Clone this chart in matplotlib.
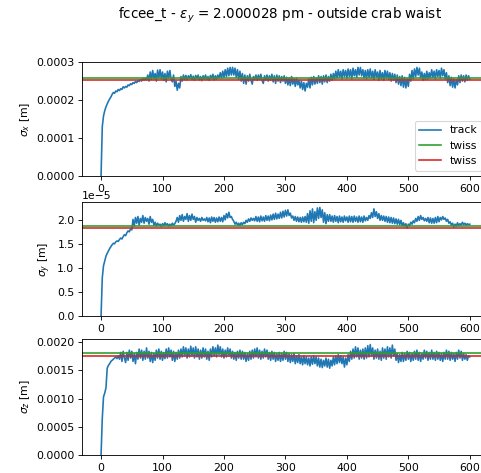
import numpy as np
import matplotlib
matplotlib.use("Agg")
import matplotlib.pyplot as plt

# Turn number of each stored sample
turns = np.arange(0, 601, 2)

# Tracked beam sizes (sigma_x in 1e-4 m, sigma_y in 1e-5 m, sigma_z in 1e-3 m)
sigma_x_track = np.array([
    0.00, 1.30, 1.58, 1.72, 1.82, 1.90, 1.97, 2.03, 2.08, 2.15,
    2.20, 2.18, 2.24, 2.22, 2.28, 2.25, 2.30, 2.28, 2.35, 2.32,
    2.36, 2.34, 2.40, 2.38, 2.43, 2.41, 2.46, 2.44, 2.49, 2.46,
    2.51, 2.49, 2.54, 2.50, 2.57, 2.52, 2.58, 2.53,
    2.66, 2.50, 2.74, 2.54, 2.78, 2.56, 2.70, 2.50, 2.79, 2.58,
    2.80, 2.56, 2.74, 2.52, 2.70, 2.48, 2.76, 2.58, 2.78, 2.54,
    2.48, 2.66, 2.36, 2.50, 2.26, 2.44, 2.32, 2.62, 2.50, 2.66,
    2.54, 2.65, 2.53, 2.64, 2.56, 2.67, 2.54, 2.63, 2.52, 2.65,
    2.56, 2.66, 2.53, 2.62, 2.51, 2.64, 2.55, 2.66, 2.54, 2.62,
    2.52, 2.65, 2.56, 2.68, 2.53, 2.64, 2.55, 2.66, 2.58, 2.72,
    2.58, 2.76, 2.60, 2.80, 2.62, 2.84, 2.64, 2.86, 2.66, 2.86,
    2.66, 2.84, 2.60, 2.80, 2.55, 2.76, 2.50, 2.70, 2.44, 2.66,
    2.42, 2.64, 2.50, 2.68, 2.52, 2.42, 2.62, 2.54, 2.66, 2.52,
    2.66, 2.54, 2.68, 2.52, 2.44, 2.64, 2.52, 2.66, 2.50, 2.64,
    2.52, 2.68, 2.48, 2.64, 2.44, 2.66, 2.50, 2.64, 2.46, 2.62,
    2.50, 2.64, 2.44, 2.60, 2.40, 2.58, 2.38, 2.62, 2.42, 2.56,
    2.36, 2.58, 2.40, 2.52, 2.32, 2.50, 2.28, 2.46, 2.24, 2.44,
    2.34, 2.56, 2.32, 2.60, 2.40, 2.62, 2.42, 2.58, 2.44, 2.64,
    2.46, 2.62, 2.42, 2.64, 2.48, 2.66, 2.46, 2.62, 2.50, 2.68,
    2.52, 2.70, 2.56, 2.76, 2.58, 2.80, 2.60, 2.76, 2.56, 2.80,
    2.62, 2.78, 2.58, 2.82, 2.62, 2.80, 2.56, 2.84, 2.64, 2.80,
    2.60, 2.86, 2.66, 2.86, 2.64, 2.80, 2.58, 2.78, 2.56, 2.80,
    2.60, 2.82, 2.58, 2.76, 2.54, 2.80, 2.60, 2.74, 2.52, 2.78,
    2.56, 2.72, 2.52, 2.78, 2.58, 2.76, 2.54, 2.72, 2.50, 2.70,
    2.52, 2.68, 2.46, 2.66, 2.42, 2.62, 2.38, 2.64, 2.34, 2.60,
    2.32, 2.56, 2.36, 2.68, 2.50, 2.78, 2.56, 2.82, 2.62, 2.86,
    2.66, 2.84, 2.58, 2.74, 2.52, 2.70, 2.54, 2.76, 2.56, 2.72,
    2.58, 2.80, 2.60, 2.76, 2.56, 2.80, 2.62, 2.78, 2.58, 2.84,
    2.64, 2.80, 2.56, 2.72, 2.46, 2.64, 2.38, 2.60, 2.34, 2.56,
    2.32, 2.54, 2.40, 2.64, 2.46, 2.66, 2.50, 2.64, 2.48, 2.66,
    2.52, 2.64, 2.55,
]) * 1e-4

sigma_y_track = np.array([
    0.00, 0.80, 1.05, 1.15, 1.25, 1.31, 1.36, 1.41, 1.45, 1.49,
    1.52, 1.51, 1.55, 1.57, 1.56, 1.60, 1.63, 1.61, 1.66, 1.70,
    1.68, 1.74, 1.78, 1.76, 1.82, 1.80,
    2.02, 1.88, 2.06, 1.94, 2.08, 1.90, 2.04, 1.96, 2.10, 1.94,
    2.06, 1.98, 2.04, 1.92, 2.08, 1.96, 2.02, 1.90, 1.96, 1.88,
    1.94, 1.90, 1.92, 1.87, 1.93, 1.89, 1.95, 1.90, 1.93, 1.88,
    1.92, 1.89, 1.94, 1.90, 1.93, 1.98, 2.06, 1.96, 2.10, 2.00,
    2.12, 1.98, 2.08, 2.02, 2.14, 1.98, 2.10, 2.00, 2.13, 2.02,
    2.08, 1.96, 2.06, 2.00, 2.04, 1.98, 2.06, 2.00, 2.03, 1.99,
    2.06, 1.97, 2.05, 1.95, 2.07, 1.98, 2.06, 1.96, 2.05, 1.97,
    2.07, 1.98, 2.06, 1.97, 2.10, 2.01, 2.14, 2.05, 2.17, 2.06,
    2.08, 2.02, 1.98, 1.92, 1.96, 1.90, 1.94, 1.89, 1.95, 1.91,
    1.96, 1.93, 2.00, 1.96, 2.03, 1.98, 2.05, 2.00, 2.04, 1.99,
    2.08, 1.98, 2.07, 1.97, 2.09, 1.99, 2.07, 1.98, 2.10, 2.00,
    2.09, 1.99, 2.11, 2.01, 2.13, 2.02, 2.15, 2.03, 2.13, 2.04,
    2.17, 2.05, 2.19, 2.07, 2.21, 2.09, 2.22, 2.10, 2.15, 2.05,
    2.09, 2.00, 2.08, 1.98, 2.07, 1.97, 2.06, 1.96, 2.07, 1.97,
    2.08, 1.96, 2.14, 1.94, 2.20, 1.98, 2.24, 1.95, 2.18, 2.00,
    2.26, 2.04, 2.27, 2.06, 2.22, 1.96, 2.16, 1.93, 2.12, 1.98,
    2.12, 1.98, 2.09, 1.96, 2.10, 1.98, 2.08, 1.95, 2.09, 1.97,
    2.07, 1.96, 2.09, 1.99, 2.07, 1.96, 2.09, 1.97, 2.08, 1.96,
    2.09, 1.98, 2.07, 1.96, 2.09, 1.97, 2.07, 1.96, 2.09, 1.99,
    2.06, 2.00, 2.10, 2.04, 2.16, 2.06, 2.24, 2.08, 2.18, 2.04,
    2.14, 2.00, 2.10, 2.00, 2.09, 1.98, 2.08, 1.96, 2.07, 1.95,
    2.06, 1.94, 2.05, 1.93, 2.03, 1.92, 2.02, 1.91, 2.00, 1.89,
    1.95, 1.88, 1.93, 1.84, 1.92, 1.89, 1.96, 1.92, 1.99, 1.95,
    2.04, 1.98, 2.08, 2.00, 2.10, 2.02, 2.06, 1.99, 2.04, 1.98,
    2.06, 1.95, 2.05, 1.94, 2.04, 1.94, 2.06, 1.95, 2.08, 1.97,
    2.06, 2.01, 2.08, 2.02, 2.05, 1.98, 2.02, 1.94, 1.97, 1.90,
    1.94, 1.86, 1.92, 1.88, 1.95, 1.89, 1.93, 1.90, 1.96, 1.91,
    1.94, 1.90, 1.93, 1.91, 1.92,
]) * 1e-5

sigma_z_track = np.array([
    0.00, 0.65, 1.03, 1.10, 1.19, 1.54, 1.59, 1.62, 1.66, 1.68,
    1.70, 1.72, 1.74, 1.71, 1.76,
    1.70, 1.82, 1.66, 1.84, 1.72, 1.64, 1.82, 1.68, 1.86, 1.72,
    1.84, 1.66, 1.80, 1.62, 1.82, 1.70, 1.88, 1.72, 1.86, 1.68,
    1.84, 1.70, 1.90, 1.72, 1.84, 1.66, 1.82, 1.64, 1.80, 1.68,
    1.86, 1.72, 1.88, 1.70, 1.84, 1.68, 1.82, 1.71, 1.88, 1.72,
    1.90, 1.74, 1.86, 1.68, 1.84, 1.66, 1.82, 1.70, 1.86, 1.72,
    1.88, 1.74, 1.92, 1.76, 1.90, 1.72, 1.88, 1.74, 1.93, 1.76,
    1.90, 1.72, 1.92, 1.74, 1.88, 1.70, 1.86, 1.72, 1.90, 1.74,
    1.88, 1.70, 1.84, 1.68, 1.88, 1.74, 1.92, 1.76, 1.90, 1.74,
    1.95, 1.78, 1.92, 1.74, 1.88, 1.72, 1.86, 1.74, 1.90, 1.76,
    1.88, 1.72, 1.84, 1.70, 1.82, 1.68, 1.84, 1.72, 1.86, 1.70,
    1.84, 1.70, 1.82, 1.66, 1.80, 1.68, 1.84, 1.70, 1.86, 1.72,
    1.88, 1.74, 1.90, 1.72, 1.86, 1.70, 1.84, 1.72, 1.88, 1.74,
    1.86, 1.70, 1.82, 1.68, 1.84, 1.70, 1.82, 1.66, 1.80, 1.68,
    1.82, 1.66, 1.80, 1.68, 1.84, 1.70, 1.82, 1.66, 1.80, 1.64,
    1.78, 1.66, 1.80, 1.62, 1.76, 1.64, 1.78, 1.62, 1.74, 1.60,
    1.76, 1.62, 1.74, 1.60, 1.72, 1.58, 1.74, 1.61, 1.76, 1.62,
    1.74, 1.58, 1.72, 1.56, 1.70, 1.55, 1.68, 1.58, 1.72, 1.56,
    1.70, 1.54, 1.68, 1.58, 1.74, 1.60, 1.76, 1.62, 1.78, 1.64,
    1.76, 1.62, 1.74, 1.56, 1.72, 1.60, 1.78, 1.66, 1.84, 1.70,
    1.88, 1.72, 1.92, 1.74, 1.90, 1.70, 1.86, 1.72, 1.88, 1.70,
    1.90, 1.72, 1.94, 1.74, 1.96, 1.76, 1.90, 1.70, 1.86, 1.72,
    1.88, 1.70, 1.84, 1.68, 1.90, 1.72, 1.88, 1.70, 1.92, 1.74,
    1.90, 1.72, 1.95, 1.76, 1.88, 1.68, 1.80, 1.64, 1.78, 1.66,
    1.82, 1.66, 1.80, 1.68, 1.84, 1.70, 1.82, 1.66, 1.80, 1.68,
    1.84, 1.70, 1.86, 1.68, 1.82, 1.66, 1.80, 1.70, 1.86, 1.72,
    1.84, 1.68, 1.82, 1.70, 1.86, 1.70, 1.82, 1.68, 1.84, 1.70,
    1.82, 1.68, 1.80, 1.66, 1.82, 1.70, 1.86, 1.70, 1.84, 1.68,
    1.82, 1.70, 1.80, 1.66, 1.82, 1.70, 1.86, 1.72, 1.84, 1.68,
    1.80, 1.70, 1.78, 1.68, 1.76, 1.74,
]) * 1e-3

# Equilibrium values from the two twiss computations
sigma_x_twiss = [2.59e-4, 2.535e-4]
sigma_y_twiss = [1.89e-5, 1.85e-5]
sigma_z_twiss = [1.81e-3, 1.748e-3]

track_label = "track"
twiss_labels = ["twiss", "twiss"]
y_labels = [r"$\sigma_x$ [m]", r"$\sigma_y$ [m]", r"$\sigma_z$ [m]"]
title = r"fccee_t - $\epsilon_y$ = 2.000028 pm - outside crab waist"

W, H, DPI = 481, 473, 78
fig = plt.figure(figsize=(W / DPI, H / DPI), dpi=DPI)

# Panel boxes in pixels: (left, top, right, bottom)
boxes = [(82, 62, 487, 176), (82, 202, 487, 316), (82, 339, 487, 455)]
axes = []
for (l, t, r, b) in boxes:
    axes.append(fig.add_axes([l / W, 1 - b / H, (r - l) / W, (b - t) / H]))

tracks = [sigma_x_track, sigma_y_track, sigma_z_track]
twiss = [sigma_x_twiss, sigma_y_twiss, sigma_z_twiss]

for ax, tr, tw, yl in zip(axes, tracks, twiss, y_labels):
    ax.plot(turns, tr, color="C0", lw=1.5, label=track_label)
    ax.axhline(tw[0], color="C2", lw=1.5, label=twiss_labels[0])
    ax.axhline(tw[1], color="C3", lw=1.5, label=twiss_labels[1])
    ax.set_xlim(-31, 628)
    ax.set_ylim(bottom=0)
    ax.set_ylabel(yl)
    ax.set_xticks([0, 100, 200, 300, 400, 500, 600])

axes[0].legend(loc="lower right")

fig.suptitle(title, x=280 / W, y=1 - 15 / H, va="center", fontsize=12.5)

fig.savefig("out.png", dpi=DPI)
